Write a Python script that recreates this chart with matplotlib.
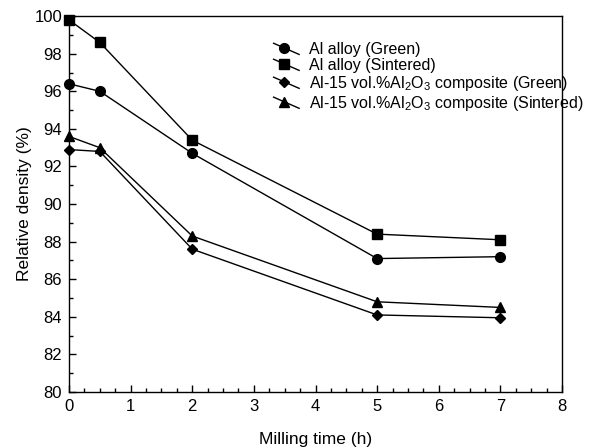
import matplotlib
matplotlib.use("Agg")
import matplotlib.pyplot as plt
from matplotlib.lines import Line2D
from matplotlib.legend_handler import HandlerLine2D
from matplotlib.ticker import MultipleLocator

plt.rcParams['font.family'] = ['Liberation Sans', 'DejaVu Sans']
plt.rcParams['mathtext.fontset'] = 'custom'
plt.rcParams['mathtext.rm'] = 'Liberation Sans'

time_h = [0, 0.5, 2, 5, 7]
al_green = [96.4, 96.0, 92.7, 87.1, 87.2]
al_sintered = [99.8, 98.6, 93.4, 88.4, 88.1]
comp_green = [92.9, 92.8, 87.6, 84.1, 83.95]
comp_sintered = [93.6, 93.0, 88.3, 84.8, 84.5]
labels = ['Al alloy (Green)', 'Al alloy (Sintered)',
          'Al-15 vol.%Al$_2$O$_3$ composite (Green)',
          'Al-15 vol.%Al$_2$O$_3$ composite (Sintered)']
markers = ['o', 's', 'D', '^']
sizes = [7, 7, 5.5, 7.5]


class DiagHandler(HandlerLine2D):
    def create_artists(self, legend, orig_handle, xdescent, ydescent,
                       width, height, fontsize, trans):
        x0, x1 = -xdescent, -xdescent + width
        y0, y1 = -ydescent + height * 1.0, -ydescent + height * 0.0
        line = Line2D([x0, x1], [y0, y1], color='black', lw=1)
        mk = Line2D([x0 + 0.42 * width], [y0 + 0.42 * (y1 - y0)], marker=orig_handle.get_marker(),
                    markersize=orig_handle.get_markersize(), color='black', ls='none')
        line.set_transform(trans)
        mk.set_transform(trans)
        return [line, mk]


fig = plt.figure(figsize=(6.02, 4.48), dpi=100)
ax = fig.add_axes([0.1146, 0.125, 0.819, 0.839])

series = [al_green, al_sintered, comp_green, comp_sintered]
handles = []
for ys, m, s, lab in zip(series, markers, sizes, labels):
    h, = ax.plot(time_h, ys, color='black', lw=1, marker=m, markersize=s,
                 label=lab, clip_on=False, zorder=3)
    handles.append(h)

ax.set_xlim(0, 8)
ax.set_ylim(80, 100)
ax.xaxis.set_major_locator(MultipleLocator(1))
ax.xaxis.set_minor_locator(MultipleLocator(0.25))
ax.yaxis.set_major_locator(MultipleLocator(2))
ax.yaxis.set_minor_locator(MultipleLocator(1))
ax.tick_params(which='both', direction='in', top=False, right=False, labelsize=12)
ax.tick_params(which='major', length=5, width=1, pad=5)
ax.tick_params(which='minor', length=3, width=1)
for sp in ax.spines.values():
    sp.set_linewidth(1)

ax.set_xlabel('Milling time (h)', fontsize=12.5, labelpad=13)
ax.set_ylabel('Relative density (%)', fontsize=12.5, labelpad=2)

ax.legend(handles=handles, labels=labels, handler_map={Line2D: DiagHandler()},
          loc='upper left', bbox_to_anchor=(0.402, 0.947), frameon=False,
          fontsize=11.5, handlelength=1.6, handletextpad=0.6, labelspacing=0.06,
          borderaxespad=0)

fig.savefig('out.png', dpi=100)
